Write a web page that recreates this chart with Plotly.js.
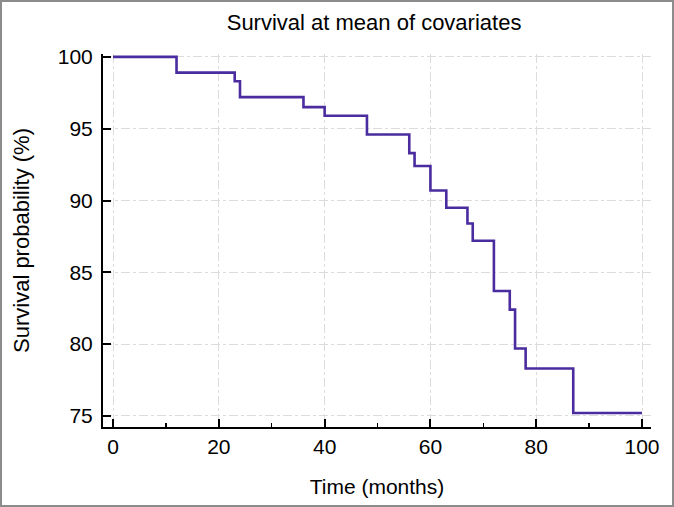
<!DOCTYPE html>
<html>
<head>
<meta charset="utf-8">
<script src="https://cdn.plot.ly/plotly-3.0.1.min.js"></script>
<style>
  html, body { margin: 0; padding: 0; background: #fff; }
  #wrap { position: relative; width: 674px; height: 507px; }
  #chart { width: 674px; height: 507px; }
  #frame { position: absolute; left: 0; top: 0; width: 674px; height: 507px; box-sizing: border-box; border: 2px solid #8c8c8c; pointer-events: none; }
</style>
</head>
<body>
<div id="wrap"><div id="chart"></div><div id="frame"></div></div>
<script>
// Step times (months) and survival probability (%)
const timeMonths = [0, 12, 23, 24, 36, 40, 48, 56, 57, 60, 63, 67, 68, 72, 75, 76, 78, 87, 100];
const survivalPct = [100, 98.9, 98.3, 97.2, 96.5, 95.9, 94.6, 93.3, 92.4, 90.7, 89.5, 88.4, 87.2, 83.7, 82.4, 79.7, 78.3, 75.2, 75.2];
const xTicks = [0, 20, 40, 60, 80, 100];
const yTicks = [75, 80, 85, 90, 95, 100];

const FONT = '"Liberation Sans", Arial, Helvetica, sans-serif';

const trace = {
  x: timeMonths,
  y: survivalPct,
  type: 'scatter',
  mode: 'lines',
  line: { shape: 'hv', color: '#4a2c9e', width: 2.6 },
  hoverinfo: 'x+y',
  showlegend: false
};

const layout = {
  width: 674,
  height: 507,
  paper_bgcolor: '#ffffff',
  plot_bgcolor: '#ffffff',
  margin: { l: 103, r: 23, t: 54, b: 80, pad: 0 },
  font: { family: FONT, color: '#000' },
  title: {
    text: 'Survival at mean of covariates',
    font: { family: FONT, size: 22, color: '#000' },
    x: 0.555, xanchor: 'center',
    y: 0.957, yanchor: 'middle'
  },
  xaxis: {
    range: [-1.9, 101.7],
    tickmode: 'array',
    tickvals: xTicks,
    ticktext: xTicks.map(String),
    ticks: 'inside',
    ticklen: 8,
    tickwidth: 2,
    tickcolor: '#000',
    tickfont: { family: FONT, size: 21, color: '#000' },
    showline: true,
    linecolor: '#000',
    linewidth: 2,
    showgrid: true,
    gridcolor: '#dcdcdc',
    gridwidth: 1,
    griddash: 'dashdot',
    zeroline: false,
    minor: { dtick: 10, tick0: 0, ticks: 'inside', ticklen: 4, tickwidth: 1.5, tickcolor: '#000', showgrid: false },
    title: { text: 'Time (months)', font: { family: FONT, size: 21, color: '#000' }, standoff: 22 }
  },
  yaxis: {
    range: [74.23, 100.2],
    tickmode: 'array',
    tickvals: yTicks,
    ticktext: yTicks.map(String),
    ticks: 'inside',
    ticklen: 8,
    tickwidth: 2,
    tickcolor: '#000',
    tickfont: { family: FONT, size: 21, color: '#000' },
    showline: true,
    linecolor: '#000',
    linewidth: 2,
    showgrid: true,
    gridcolor: '#dcdcdc',
    gridwidth: 1,
    griddash: 'dashdot',
    zeroline: false,
    ticklabelstandoff: 4,
    title: { text: 'Survival probability (%)', font: { family: FONT, size: 22, color: '#000' }, standoff: 22 }
  }
};

Plotly.newPlot('chart', [trace], layout, { displayModeBar: false, staticPlot: true });
</script>
</body>
</html>
